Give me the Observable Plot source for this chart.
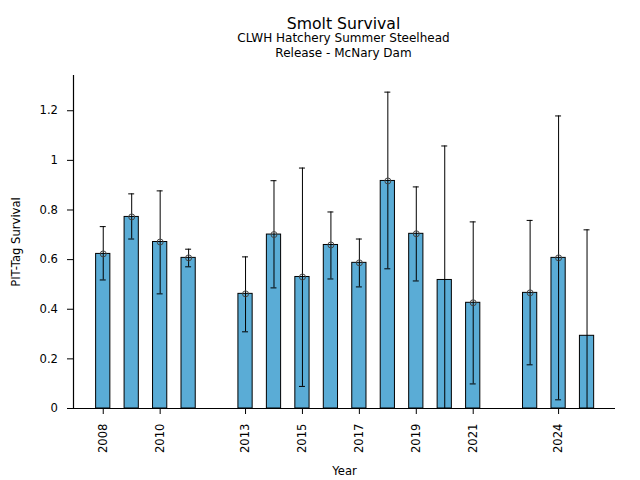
<!DOCTYPE html>
<html>
<head>
<meta charset="utf-8">
<script src="https://cdn.jsdelivr.net/npm/d3@7"></script>
<script src="https://cdn.jsdelivr.net/npm/@observablehq/plot@0.6"></script>
<style>
  html, body { margin: 0; padding: 0; background: #fff; }
  #wrap { width: 640px; height: 480px; position: relative; font-family: "DejaVu Sans", sans-serif; color: #000; }
  #head { position: relative; width: 640px; height: 62px; }
  .t { position: absolute; left: 0; width: 687px; text-align: center; white-space: nowrap; }
  #title { top: 16.1px; font-size: 15.7px; line-height: 15.7px; }
  #sub1 { top: 32.3px; font-size: 12px; line-height: 12px; }
  #sub2 { top: 46.6px; font-size: 12px; line-height: 12px; }
  svg { display: block; }
</style>
</head>
<body>
<div id="wrap">
  <div id="head">
    <div class="t" id="title">Smolt Survival</div>
    <div class="t" id="sub1">CLWH Hatchery Summer Steelhead</div>
    <div class="t" id="sub2">Release - McNary Dam</div>
  </div>
  <div id="chart"></div>
</div>
<script>
const years    = [2008, 2009, 2010, 2011, 2013, 2014, 2015, 2016, 2017, 2018, 2019, 2020, 2021, 2023, 2024, 2025];
const survival = [0.623, 0.772, 0.671, 0.607, 0.462, 0.701, 0.530, 0.659, 0.587, 0.917, 0.704, 0.518, 0.426, 0.466, 0.607, 0.293];
const lower    = [0.518, 0.683, 0.462, 0.571, 0.309, 0.486, 0.089, 0.522, 0.490, 0.563, 0.514, 0.000, 0.099, 0.176, 0.035, 0.000];
const upper    = [0.733, 0.865, 0.877, 0.642, 0.611, 0.918, 0.969, 0.792, 0.683, 1.275, 0.893, 1.058, 0.752, 0.758, 1.179, 0.720];
const hasPoint = [true, true, true, true, true, true, true, true, true, true, true, false, true, true, true, false];

const xTicks = [2008, 2010, 2013, 2015, 2017, 2019, 2021, 2024];
const yTicks = [0, 0.2, 0.4, 0.6, 0.8, 1, 1.2];

const data = years.map((year, i) => ({year, value: survival[i], lo: lower[i], hi: upper[i], pt: hasPoint[i]}));

const barHalf = 0.25;
const capHalf = 0.105;
const xDomain = [2006.955, 2026.0];

const chart = Plot.plot({
  width: 640,
  height: 418,
  marginLeft: 73,
  marginRight: 25,
  marginTop: 13,
  marginBottom: 72,
  style: {fontFamily: "DejaVu Sans, sans-serif", fontSize: "11.6px", color: "#000", background: "#fff"},
  x: {type: "linear", domain: xDomain},
  y: {domain: [0, 1.342]},
  marks: [
    Plot.rectY(data, {x1: d => d.year - barHalf, x2: d => d.year + barHalf, y: "value", fill: "#5aacd6", stroke: "#000", strokeWidth: 1}),
    Plot.ruleX(data, {x: "year", y1: "lo", y2: "hi", stroke: "#000", strokeWidth: 1}),
    Plot.ruleY(data, {y: "hi", x1: d => d.year - capHalf, x2: d => d.year + capHalf, stroke: "#000", strokeWidth: 1}),
    Plot.ruleY(data, {y: "lo", x1: d => d.year - capHalf, x2: d => d.year + capHalf, stroke: "#000", strokeWidth: 1}),
    Plot.dot(data.filter(d => d.pt), {x: "year", y: "value", r: 3, stroke: "#444", fill: "none", strokeWidth: 1}),
    Plot.ruleY([0], {stroke: "#000", strokeWidth: 1.2}),
    Plot.ruleX([xDomain[0]], {stroke: "#000", strokeWidth: 1.2}),
    Plot.axisX({ticks: xTicks, tickFormat: d => String(d), tickRotate: -90, tickSize: 6, tickPadding: 9, label: "Year", labelAnchor: "center", labelArrow: "none", labelOffset: 66}),
    Plot.axisY({ticks: yTicks, tickFormat: d => String(d), tickSize: 6, tickPadding: 9.5, label: "PIT-Tag Survival", labelAnchor: "center", labelArrow: "none", labelOffset: 62})
  ]
});
document.getElementById("chart").appendChild(chart);
</script>
</body>
</html>
